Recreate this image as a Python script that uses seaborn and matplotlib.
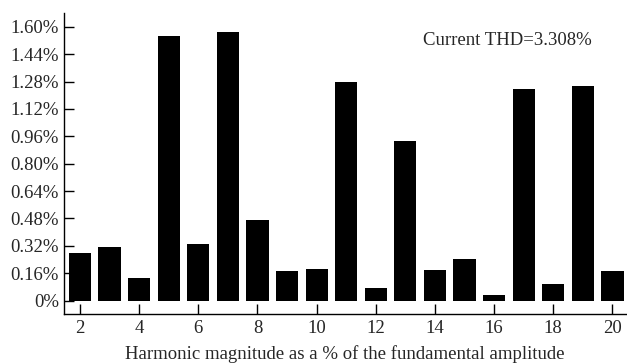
"""Harmonic spectrum of the current as a bar chart."""

import matplotlib

matplotlib.use("Agg")
import matplotlib.pyplot as plt
import pandas as pd
import seaborn as sns

harmonics = list(range(2, 21))
magnitude_pct = [
    0.277, 0.312, 0.133, 1.544, 0.329, 1.571, 0.471, 0.172, 0.183, 1.277,
    0.076, 0.934, 0.179, 0.242, 0.033, 1.234, 0.096, 1.254, 0.172,
]
y_ticks = [0.0, 0.16, 0.32, 0.48, 0.64, 0.80, 0.96, 1.12, 1.28, 1.44, 1.60]
x_ticks = [2, 4, 6, 8, 10, 12, 14, 16, 18, 20]
thd_label = "Current THD=3.308%"
x_label = "Harmonic magnitude as a % of the fundamental amplitude"

FONT = "Liberation Serif"
FS = 13.5


def _pct_label(v):
    return "0%" if v == 0 else f"{v:.2f}%"


def main():
    sns.set_style("white")
    plt.rcParams["font.family"] = [FONT, "DejaVu Serif"]

    df = pd.DataFrame({"harmonic": harmonics, "magnitude": magnitude_pct})

    fig = plt.figure(figsize=(6.27, 3.63), dpi=100)
    ax = fig.add_axes([0.1026, 0.135, 0.8954, 0.83])

    sns.barplot(
        data=df,
        x="harmonic",
        y="magnitude",
        native_scale=True,
        width=0.75,
        color="black",
        saturation=1,
        edgecolor="none",
        ax=ax,
    )

    ax.set_xlim(1.47, 20.45)
    ax.set_ylim(-0.078, 1.682)
    ax.set_xticks(x_ticks)
    ax.set_xticklabels([str(t) for t in x_ticks], fontsize=FS)
    ax.set_yticks(y_ticks)
    ax.set_yticklabels([_pct_label(t) for t in y_ticks], fontsize=FS)
    ax.tick_params(axis="both", direction="in", length=7, width=1, color="black",
                   left=True, bottom=True, pad=4)
    ax.set_xlabel(x_label, fontsize=FS, labelpad=6)
    ax.set_ylabel("")

    for side in ["top", "right"]:
        ax.spines[side].set_visible(False)
    for side in ["left", "bottom"]:
        ax.spines[side].set_color("black")
        ax.spines[side].set_linewidth(1)

    ax.text(13.6, 1.522, thd_label, fontsize=FS, va="center", ha="left")

    fig.savefig("out.png", dpi=100)
    plt.close(fig)


if __name__ == "__main__":
    main()
